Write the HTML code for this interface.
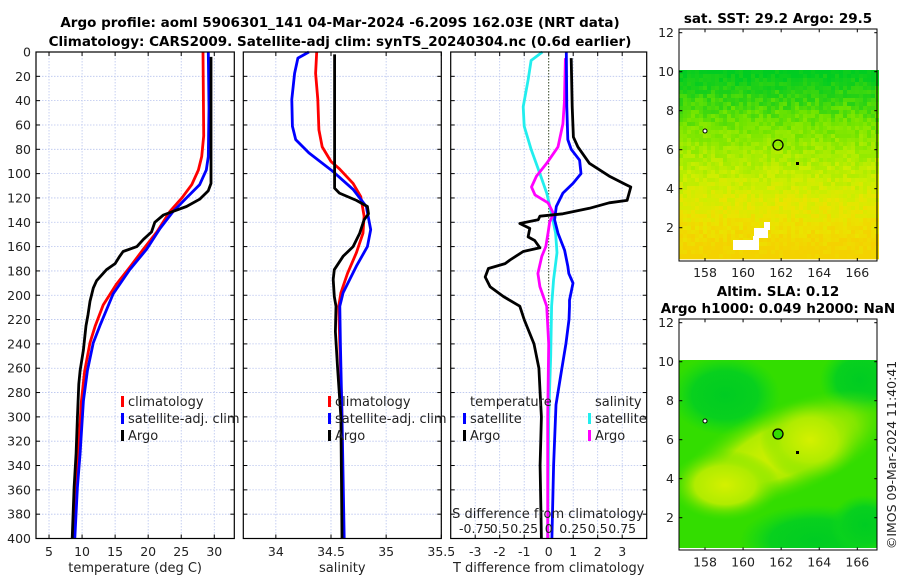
<!DOCTYPE html>
<html><head><meta charset="utf-8"><style>
body{margin:0;background:#fff;}
svg text{font-family:"DejaVu Sans","Liberation Sans",sans-serif;}
</style></head><body>
<svg id="c" width="900" height="580" xmlns="http://www.w3.org/2000/svg">
<defs>
<radialGradient id="slaY" cx="0.5" cy="0.5" r="0.5"><stop offset="0" stop-color="#d4f000"/><stop offset="0.55" stop-color="#b0ec00"/><stop offset="1" stop-color="#55e000" stop-opacity="0"/></radialGradient>
<radialGradient id="slaD" cx="0.5" cy="0.5" r="0.5"><stop offset="0" stop-color="#00cc22"/><stop offset="0.6" stop-color="#08d01e"/><stop offset="1" stop-color="#10d818" stop-opacity="0"/></radialGradient>
<clipPath id="m2c"><rect x="679" y="360" width="198" height="188"/></clipPath>
</defs>
<g id="plots"></g>
<text x="340" y="27" text-anchor="middle" font-size="13.5" font-weight="bold">Argo profile: aoml 5906301_141 04-Mar-2024 -6.209S 162.03E (NRT data)</text>
<text x="340" y="46" text-anchor="middle" font-size="13.5" font-weight="bold">Climatology: CARS2009. Satellite-adj clim: synTS_20240304.nc (0.6d earlier)</text>
<text x="778" y="23" text-anchor="middle" font-size="13.5" font-weight="bold">sat. SST: 29.2 Argo: 29.5</text>
<g id="sstmap"></g>
<g>
<rect x="754" y="228" width="14" height="10" fill="#fff"/><rect x="764" y="222" width="6" height="8" fill="#fff"/>
<rect x="733" y="240" width="26" height="10" fill="#fff"/><rect x="753" y="236" width="6" height="10" fill="#fff"/>
<circle cx="778" cy="145" r="5" fill="none" stroke="#000" stroke-width="1.3"/>
<circle cx="705" cy="131" r="2" fill="#fff" stroke="#000"/><rect x="796" y="162" width="3" height="3"/>
</g>
<rect x="679" y="29" width="198" height="232" fill="none" stroke="#000"/>
<g id="m1ax"></g>
<text x="778" y="296" text-anchor="middle" font-size="13.5" font-weight="bold">Altim. SLA: 0.12</text>
<text x="778" y="313" text-anchor="middle" font-size="13.5" font-weight="bold">Argo h1000: 0.049 h2000: NaN</text>
<g clip-path="url(#m2c)">
<rect x="679" y="360" width="198" height="188" fill="#33dd00"/>
<ellipse cx="725" cy="395" rx="55" ry="40" fill="url(#slaD)"/>
<ellipse cx="860" cy="380" rx="40" ry="35" fill="url(#slaD)"/>
<ellipse cx="785" cy="450" rx="115" ry="45" transform="rotate(-22 785 450)" fill="url(#slaY)"/>
<ellipse cx="725" cy="485" rx="55" ry="35" fill="url(#slaY)"/>
<ellipse cx="810" cy="440" rx="50" ry="40" fill="url(#slaY)"/>
<ellipse cx="815" cy="540" rx="75" ry="35" fill="url(#slaD)"/>
<ellipse cx="865" cy="525" rx="35" ry="30" fill="url(#slaD)"/>
<circle cx="778" cy="434" r="5" fill="#33dd00" stroke="#000" stroke-width="1.3"/>
<circle cx="705" cy="421" r="2" fill="#fff" stroke="#000"/><rect x="796" y="451" width="3" height="3"/>
</g>
<rect x="679" y="319" width="198" height="231" fill="none" stroke="#000"/>
<g id="m2ax"></g>
<text transform="translate(896 455) rotate(-90)" text-anchor="middle" font-size="12.5" fill="#222">©IMOS 09-Mar-2024 11:40:41</text>
</svg>
<script>
// ---- data ----
const depthTicks=[0,20,40,60,80,100,120,140,160,180,200,220,240,260,280,300,320,340,360,380,400];
const tempTicks=[5,10,15,20,25,30];
const salTicks=[34,34.5,35,35.5];
const tdiffTicks=[-3,-2,-1,0,1,2,3];
const sdiffTickLabels=["-0.75","0.5","0.25","0","0.25","0.5","0.75"];
const sdiffTicks=[-0.75,-0.5,-0.25,0,0.25,0.5,0.75];

const argoTDepth=[4,108,114,121,127,131,134,140,148,154,160,164,168,174,179,188,194,205,216,225,245,262,273,301,330,358,400];
const argoT=[29.5,29.5,29.1,27.8,25.8,23.8,22.3,21.0,20.5,19.3,18.3,16.2,15.7,15.0,13.7,12.2,11.7,11.2,10.9,10.6,10.2,9.7,9.5,9.3,9.1,8.8,8.5];
const climTDepth=[0,69,86,97,109,120,131,148,162,177,191,208,225,239,262,287,330,358,400];
const climT=[28.3,28.4,28.1,27.6,26.6,25.1,23.3,21.3,19.3,17.2,15.2,13.2,12.0,11.2,10.4,9.9,9.4,8.9,8.6];
const satTDepth=[0,46,86,97,109,120,131,145,162,179,199,225,239,262,287,330,358,400];
const satT=[29.1,29.2,29.1,28.8,27.8,25.8,23.8,21.8,19.8,17.2,14.7,12.7,11.7,10.8,10.2,9.7,9.3,8.9];

const argoSDepth=[2,112,116,122,127,133,138,149,160,168,179,187,201,209,230,260,300,400];
const argoS=[34.533,34.533,34.576,34.73,34.83,34.84,34.80,34.76,34.70,34.61,34.53,34.52,34.53,34.545,34.54,34.56,34.59,34.60];
const climSDepth=[0,17.5,39,64,78,90,96,108,119,135,149,165,182,198,209,240,300,400];
const climS=[34.37,34.36,34.38,34.39,34.42,34.5,34.576,34.70,34.77,34.80,34.79,34.73,34.65,34.59,34.57,34.58,34.6,34.61];
const satSDepth=[0,5,17.5,39,61,72,83,98,113,127,146,160,176,198,209,240,300,400];
const satS=[34.30,34.2,34.17,34.145,34.15,34.18,34.30,34.515,34.70,34.82,34.86,34.83,34.73,34.61,34.58,34.585,34.6,34.62];

const argoTdDepth=[5,45,70,78,91.5,102,109,111,116,122,124,128.5,133,135,138,141,145,152,155,161,164,171,174,178,185,193,201,209,220,240,260,280,300,340,400];
const argoTd=[0.92,0.96,1.01,1.19,1.66,2.47,3.15,3.35,3.28,3.2,2.47,1.66,0.58,-0.36,-0.43,-1.18,-0.77,-0.84,-0.57,-0.36,-1.04,-1.58,-1.78,-2.46,-2.59,-2.39,-1.85,-1.18,-1.0,-0.6,-0.4,-0.35,-0.3,-0.35,-0.3];
const satTdDepth=[0,45,72,80,89,100,108,116,127,138,149,163,176,182,190,204,209,220,240,260,290,340,400];
const satTd=[0.72,0.74,0.78,0.92,1.26,1.32,0.99,0.58,0.31,0.24,0.38,0.65,0.78,0.82,0.99,0.85,0.85,0.83,0.7,0.54,0.3,0.2,0.13];
const satSdDepth=[0,7,23,45,61,80,100,116,133,149,165,187,209,250,300,400];
const satSd=[-0.064,-0.18,-0.21,-0.26,-0.25,-0.18,-0.09,-0.02,0.03,0.07,0.085,0.05,0.03,0.02,0.0,-0.01];
const argoSdDepth=[5,41,59,78,91.5,102,111,117.5,124,133,139.5,149,160,168,182,193,209,240,300,400];
const argoSd=[0.17,0.16,0.145,0.095,-0.02,-0.125,-0.175,-0.14,-0.007,0.05,0.01,-0.007,-0.03,-0.07,-0.11,-0.09,-0.02,0,-0.01,-0.01];

const lonTicks=[158,160,162,164,166];
const latTicks=[2,4,6,8,10,12];

// ---- drawing ----
const NS="http://www.w3.org/2000/svg";
const root=document.getElementById('plots');
function mk(tag,attrs,parent){const e=document.createElementNS(NS,tag);for(const k in attrs)e.setAttribute(k,attrs[k]);(parent||root).appendChild(e);return e;}
const TOP=52,BOT=538.5;
const yD=d=>TOP+(BOT-TOP)*d/400;
function lin(v0,v1,p0,p1){return v=>p0+(v-v0)*(p1-p0)/(v1-v0);}

// SST map texture (deterministic)
(function(){
  const g=document.getElementById('sstmap');
  const pal=[[0,204,34],[40,210,20],[110,228,0],[160,236,0],[205,238,0],[235,228,0],[244,210,0]];
  function col(t){t=Math.max(0,Math.min(0.999,t))*(pal.length-1);const i=Math.floor(t),f=t-i;const a=pal[i],b=pal[i+1];
    return 'rgb('+a.map((v,k)=>Math.round(v+(b[k]-v)*f)).join(',')+')';}
  function h(i,j){let n=Math.sin(i*127.1+j*311.7)*43758.5453;return n-Math.floor(n);}
  const cs=4;
  for(let j=0;j<48;j++){const y=70+j*cs; if(y>=259)break;
    for(let i=0;i<50;i++){const x=679+i*cs; if(x>=877)break;
      const lat=12-(y+2-32.7)/19.5;
      let base=(10-lat)/9.2;
      base=Math.pow(Math.max(0,base),0.85);
      const t=base+(h(i,j)-0.5)*0.16;
      mk('rect',{x:x,y:y,width:cs,height:Math.min(cs,259.3-y),fill:col(t)},g);
    }}
})();

const panels=[
 {x0:36,x1:234.3,f:lin(3.03,33.03,36,234.3),ticks:tempTicks,name:'temperature-panel',label:'temperature (deg C)'},
 {x0:243.3,x1:441.3,f:lin(33.705,35.5,243.3,441.3),ticks:salTicks,name:'salinity-panel',label:'salinity'},
 {x0:450.7,x1:646.7,f:lin(-4,4,450.7,646.7),ticks:tdiffTicks,name:'difference-panel',label:'T difference from climatology'}
];
panels.forEach((p,i)=>{
  const g=mk('g',{});
  
  
  depthTicks.forEach(d=>{const l=mk('line',{x1:p.x0,x2:p.x1,y1:yD(d),y2:yD(d),stroke:'#b8c4ee','stroke-width':0.8,'stroke-dasharray':'1.5 1.5'},g);
    
    mk('line',{x1:p.x0,x2:p.x0+4,y1:yD(d),y2:yD(d),stroke:'#000'},g);mk('line',{x1:p.x1,x2:p.x1-4,y1:yD(d),y2:yD(d),stroke:'#000'},g);
    if(i===0){const t=mk('text',{x:31,y:yD(d)+4.5,'text-anchor':'end','font-size':12.5,fill:'#222'},g);t.textContent=d;
      }
  });
  p.ticks.forEach(v=>{const x=p.f(v);
    if(!(i===2&&v===0)){const l=mk('line',{x1:x,x2:x,y1:TOP,y2:BOT,stroke:'#b8c4ee','stroke-width':0.8,'stroke-dasharray':'1.5 1.5'},g);
      }
    mk('line',{x1:x,x2:x,y1:BOT,y2:BOT-4,stroke:'#000'},g);mk('line',{x1:x,x2:x,y1:TOP,y2:TOP+4,stroke:'#000'},g);
    const t=mk('text',{x:x,y:556,'text-anchor':'middle','font-size':12.5,fill:'#222'},g);t.textContent=v;
    
  });
  const xl=mk('text',{x:(p.x0+p.x1)/2,y:572,'text-anchor':'middle','font-size':13,fill:'#222'},g);xl.textContent=p.label;
  
});
const zl=mk('line',{x1:panels[2].f(0),x2:panels[2].f(0),y1:TOP,y2:BOT,stroke:'#334422','stroke-width':1,'stroke-dasharray':'1.5 1.5'});


function series(p,depths,vals,color,name,scale){
  const s=scale||1;
  const pts=depths.map((d,k)=>p.f(vals[k]*s).toFixed(1)+','+yD(d).toFixed(1)).join(' ');
  const e=mk('polyline',{points:pts,fill:'none',stroke:color,'stroke-width':2.8,'stroke-linejoin':'round'});
  
  
}
series(panels[0],climTDepth,climT,'#ff0000','climatology-temperature-line');
series(panels[0],satTDepth,satT,'#0000ff','satellite-temperature-line');
series(panels[0],argoTDepth,argoT,'#000','argo-temperature-line');
series(panels[1],climSDepth,climS,'#ff0000','climatology-salinity-line');
series(panels[1],satSDepth,satS,'#0000ff','satellite-salinity-line');
series(panels[1],argoSDepth,argoS,'#000','argo-salinity-line');
series(panels[2],satSdDepth,satSd,'#22eeee','satellite-salinity-diff-line',4);
series(panels[2],argoSdDepth,argoSd,'#ff00ff','argo-salinity-diff-line',4);
series(panels[2],satTdDepth,satTd,'#0000ff','satellite-temperature-diff-line');
series(panels[2],argoTdDepth,argoTd,'#000','argo-temperature-diff-line');

panels.forEach(p=>{const r=mk('rect',{x:p.x0,y:TOP,width:p.x1-p.x0,height:BOT-TOP,fill:'none',stroke:'#000','stroke-width':1.2});
  });

sdiffTicks.forEach((v,k)=>{const t=mk('text',{x:panels[2].f(v*4),y:533,'text-anchor':'middle','font-size':12.5,fill:'#222'});t.textContent=sdiffTickLabels[k];
  });
const st=mk('text',{x:548,y:518,'text-anchor':'middle','font-size':13,fill:'#222'});st.textContent='S difference from climatology';


function legend(x,y,color,label){
  const g=mk('g',{});
  
  
  mk('rect',{x:x,y:y-10,width:3,height:11,fill:color},g);
  const t=mk('text',{x:x+7,y:y,'font-size':13,fill:'#222'},g);t.textContent=label;
}
legend(121,406,'#ff0000','climatology');legend(121,423,'#0000ff','satellite-adj. clim');legend(121,440,'#000','Argo');
legend(328,406,'#ff0000','climatology');legend(328,423,'#0000ff','satellite-adj. clim');legend(328,440,'#000','Argo');
const lt1=mk('text',{x:470,y:406,'font-size':13,fill:'#222'});lt1.textContent='temperature';

const lt2=mk('text',{x:595,y:406,'font-size':13,fill:'#222'});lt2.textContent='salinity';

legend(463,423,'#0000ff','satellite');legend(463,440,'#000','Argo');
legend(588,423,'#22eeee','satellite');legend(588,440,'#ff00ff','Argo');

function mapAxes(gid,top,bot,lat12y){
  const g=document.getElementById(gid);
  const fx=lin(156.65,167.05,679.3,877.3);
  const fy=v=>lat12y+(12-v)*19.5;
  lonTicks.forEach(v=>{const x=fx(v);mk('line',{x1:x,x2:x,y1:bot,y2:bot-3,stroke:'#000'},g);mk('line',{x1:x,x2:x,y1:top,y2:top+3,stroke:'#000'},g);
    const t=mk('text',{x:x,y:bot+16,'text-anchor':'middle','font-size':12.5,fill:'#222'},g);t.textContent=v;
    });
  latTicks.forEach(v=>{const y=fy(v);mk('line',{x1:679.3,x2:682.3,y1:y,y2:y,stroke:'#000'},g);mk('line',{x1:877.3,x2:874.3,y1:y,y2:y,stroke:'#000'},g);
    const t=mk('text',{x:674,y:y+4.5,'text-anchor':'end','font-size':12.5,fill:'#222'},g);t.textContent=v;
    });
}
mapAxes('m1ax',29.3,261,32.7);
mapAxes('m2ax',319.3,550.5,322.7);
</script>
</body></html>
